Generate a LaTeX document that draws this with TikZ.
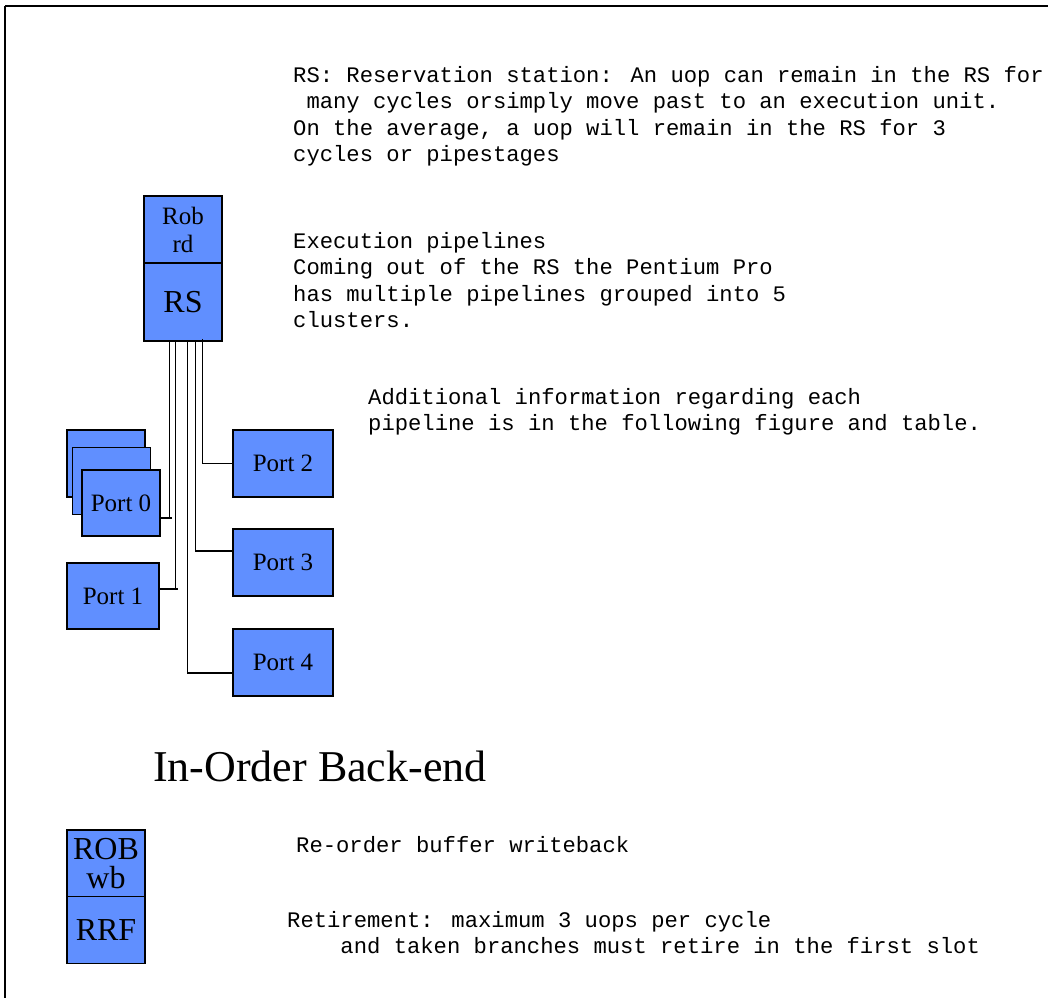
\documentclass[tikz,border=0pt]{standalone}
\usepackage{fontspec}
\setmainfont{Liberation Serif}
\newfontfamily\monofam{Liberation Mono}
\definecolor{boxblue}{RGB}{96,143,255}
\tikzset{
  blk/.style={draw=black, line width=1.8pt, fill=boxblue, inner sep=0pt, align=center},
  conn/.style={draw=black, line width=1.2pt},
  mtext/.style={anchor=base west, inner sep=0pt, align=left, font=\monofam\fontsize{22.2}{26.6}\selectfont},
}
\begin{document}
\begin{tikzpicture}[x=1pt,y=-1pt]
\useasboundingbox (0,0) rectangle (1048,998);
% frame
\draw[line width=2.4pt] (5,6) -- (1048,6);
\draw[line width=1.6pt] (5,6) -- (5,998);

% Rob rd / RS
\node[blk, minimum width=78pt, minimum height=67pt, font=\fontsize{25}{28}\selectfont] (rob) at (183,229.5) {Rob\\rd};
\node[blk, minimum width=78pt, minimum height=78pt, font=\fontsize{32}{36}\selectfont] (RS) at (183,302) {RS};

% Port boxes
\node[blk, minimum width=78pt, minimum height=67pt] (p0b) at (106,463.5) {};
\node[blk, minimum width=78pt, minimum height=67pt] (p0m) at (111.5,481) {};
\node[blk, minimum width=78pt, minimum height=66pt, font=\fontsize{25}{28}\selectfont] (p0) at (121,503) {Port 0};
\node[blk, minimum width=92pt, minimum height=66pt, font=\fontsize{25}{28}\selectfont] (p1) at (113,596) {Port 1};
\node[blk, minimum width=100pt, minimum height=67pt, font=\fontsize{25}{28}\selectfont] (p2) at (283,463.5) {Port 2};
\node[blk, minimum width=100pt, minimum height=67pt, font=\fontsize{25}{28}\selectfont] (p3) at (283,562.5) {Port 3};
\node[blk, minimum width=100pt, minimum height=67pt, font=\fontsize{25}{28}\selectfont] (p4) at (283,662.5) {Port 4};

% connectors
\coordinate (t0) at (172,518);
\coordinate (t1) at (178,589);
\draw[conn] (RS.south west) ++(26,0) |- (p0.east |- t0);
\draw[conn] (p0.east |- t0) -- (t0);
\draw[conn] (RS.south west) ++(32.7,0) |- (p1.east |- t1);
\draw[conn] (p1.east |- t1) -- (t1);
\draw[conn] (RS.south west) ++(59,-3) |- (p2.west);
\draw[conn] (RS.south west) ++(52,0) |- ([yshift=11.5pt]p3.west);
\draw[conn] (RS.south west) ++(44,0) |- ([yshift=-10.5pt]p4.west);

% ROB wb / RRF
\node[blk, minimum width=78pt, minimum height=67pt, font=\fontsize{32}{29}\selectfont] (robwb) at (106,863.5) {ROB\\wb};
\node[blk, minimum width=78pt, minimum height=67pt, font=\fontsize{32}{36}\selectfont] (rrf) at (106,930) {RRF};

% texts (base anchor = baseline of the last line)
\node[mtext] (t_rs) at (293,161.8) {RS: Reservation station: An uop can remain in the RS for\\
\phantom{a}many cycles orsimply move past to an execution unit.\\
On the average, a uop will remain in the RS for 3\\
cycles or pipestages};
\node[mtext] (t_exec) at (293,327.8) {Execution pipelines\\
Coming out of the RS the Pentium Pro\\
has multiple pipelines grouped into 5\\
clusters.};
\node[mtext] (t_add) at (368,430.6) {Additional information regarding each\\
pipeline is in the following figure and table.};
\node[anchor=base west, inner sep=0pt, font=\fontsize{44}{50}\selectfont] (title) at (153,781) {In-Order Back-end};
\node[mtext] (t_rob) at (296,852) {Re-order buffer writeback};
\node[mtext] (t_ret) at (287,953.6) {Retirement: maximum 3 uops per cycle\\
\phantom{aaaa}and taken branches must retire in the first slot};
\end{tikzpicture}
\end{document}
